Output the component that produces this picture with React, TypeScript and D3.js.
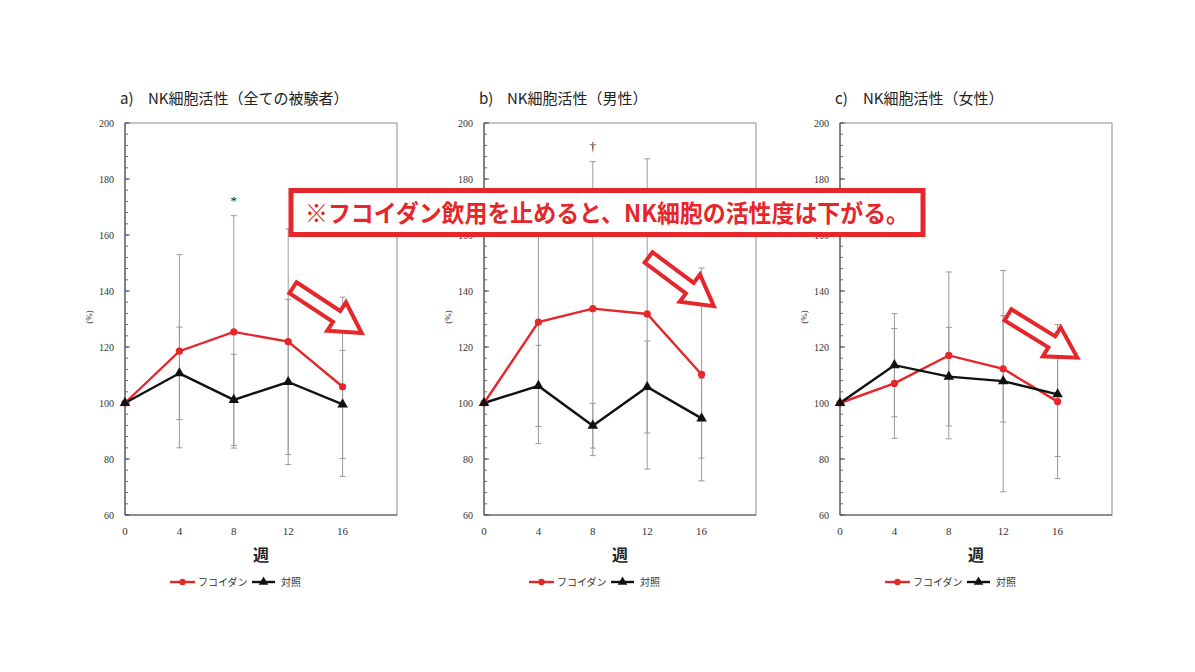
import React from "react";
import * as d3 from "d3";

// weeks and axis ticks
const weeks = [0, 4, 8, 12, 16];
const yTicks = [60, 80, 100, 120, 140, 160, 180, 200];
const yMinor = d3.range(60, 201, 4);

const panelLabels = ["a)", "b)", "c)"];
const panelNames = ["NK細胞活性（全ての被験者）", "NK細胞活性（男性）", "NK細胞活性（女性）"];
const seriesNames = ["フコイダン", "対照"];

// mean values (%)
const fucoidanA = [100, 118.5, 125.4, 121.9, 105.8];
const controlA = [100, 110.6, 101.1, 107.5, 99.5];
const fucoidanB = [100, 128.9, 133.7, 131.8, 110.2];
const controlB = [100, 106.1, 91.9, 105.7, 94.5];
const fucoidanC = [100, 107.0, 117.0, 112.2, 100.5];
const controlC = [100, 113.5, 109.4, 107.8, 103.1];

// standard deviations
const fucoidanSdA = [0, 34.5, 41.5, 40.3, 32.0];
const controlSdA = [0, 16.5, 16.3, 29.5, 19.3];
const fucoidanSdB = [0, 43.4, 52.5, 55.4, 38.0];
const controlSdB = [0, 14.5, 8.0, 16.4, 14.2];
const fucoidanSdC = [0, 19.6, 29.8, 19.0, 27.5];
const controlSdC = [0, 18.4, 17.6, 39.5, 22.2];

// significance marks (week, symbol)
const marks = [{ week: 8, sym: "*" }, { week: 8, sym: "†" }, null];

// hollow arrows: [tail week, tail value, tip week, tip value]
const arrows = [
  [12.35, 141.2, 17.4, 125.0],
  [12.1, 152.0, 16.9, 134.6],
  [12.35, 131.5, 17.45, 116.2],
];

const banner = "※フコイダン飲用を止めると、NK細胞の活性度は下がる。";

const RED = "#e5262a";
const GRAY = "#9a9a9a";
const SERIF = "'Liberation Serif', 'DejaVu Serif', serif";
const SANS = "'Noto Sans CJK JP', 'Noto Sans', sans-serif";

const panels = [
  { left: 125, f: fucoidanA, fs: fucoidanSdA, c: controlA, cs: controlSdA },
  { left: 484, f: fucoidanB, fs: fucoidanSdB, c: controlB, cs: controlSdB },
  { left: 840, f: fucoidanC, fs: fucoidanSdC, c: controlC, cs: controlSdC },
];

const top = 123;
const bottom = 515;
const plotW = 272;

function Arrow({ x1, y1, x2, y2 }: { x1: number; y1: number; x2: number; y2: number }) {
  const L = Math.hypot(x2 - x1, y2 - y1);
  const ang = (Math.atan2(y2 - y1, x2 - x1) * 180) / Math.PI;
  const sw = 6.5, hw = 17, hl = 30;
  const pts = [
    [0, -sw], [L - hl, -sw], [L - hl, -hw], [L, 0], [L - hl, hw], [L - hl, sw], [0, sw],
  ].map((p) => p.join(",")).join(" ");
  return (
    <g transform={`translate(${x1},${y1}) rotate(${ang})`}>
      <polygon points={pts} fill="white" stroke={RED} strokeWidth={4} strokeLinejoin="miter" />
    </g>
  );
}

function Panel({ idx }: { idx: number }) {
  const p = panels[idx];
  const x = d3.scaleLinear().domain([0, 20]).range([p.left, p.left + plotW]);
  const y = d3.scaleLinear().domain([60, 200]).range([bottom, top]);
  const line = d3.line<number>().x((_, i) => x(weeks[i])).y((d) => y(d));
  const tri = d3.symbol().type(d3.symbolTriangle).size(48)();
  const mark = marks[idx];
  const a = arrows[idx];
  const cx = p.left + plotW / 2;

  const errBars = (vals: number[], sds: number[], key: string) =>
    vals.map((v, i) =>
      sds[i] > 0 ? (
        <g key={key + i} stroke={GRAY} strokeWidth={1}>
          <line x1={x(weeks[i])} x2={x(weeks[i])} y1={y(v - sds[i])} y2={y(v + sds[i])} />
          <line x1={x(weeks[i]) - 3} x2={x(weeks[i]) + 3} y1={y(v - sds[i])} y2={y(v - sds[i])} />
          <line x1={x(weeks[i]) - 3} x2={x(weeks[i]) + 3} y1={y(v + sds[i])} y2={y(v + sds[i])} />
        </g>
      ) : null
    );

  return (
    <g>
      {/* title */}
      <text x={p.left - 5} y={104} fontFamily={SANS} fontSize={15} fill="#222">
        {panelLabels[idx]}
      </text>
      <text x={p.left + 23} y={104} fontFamily={SANS} fontSize={15} fill="#222">
        {panelNames[idx]}
      </text>

      {/* frame */}
      <rect x={p.left} y={top} width={plotW} height={bottom - top} fill="none" stroke="#8c8c8c" strokeWidth={1} />
      <line x1={p.left} x2={p.left} y1={top} y2={bottom} stroke="#555" strokeWidth={1.2} />
      <line x1={p.left} x2={p.left + plotW} y1={bottom} y2={bottom} stroke="#555" strokeWidth={1.2} />

      {/* y ticks */}
      {yMinor.map((t) => (
        <line key={"m" + t} x1={p.left} x2={p.left + 3} y1={y(t)} y2={y(t)} stroke="#666" strokeWidth={1} />
      ))}
      {yTicks.map((t) => (
        <g key={"y" + t}>
          <line x1={p.left} x2={p.left + 5} y1={y(t)} y2={y(t)} stroke="#555" strokeWidth={1} />
          <text x={p.left - 11} y={y(t) + 3.5} textAnchor="end" fontFamily={SERIF} fontSize={10} fill="#333">
            {t}
          </text>
        </g>
      ))}
      <text
        transform={`translate(${p.left - 33},${(top + bottom) / 2 - 2}) rotate(-90)`}
        textAnchor="middle"
        fontFamily={SERIF}
        fontSize={9}
        fill="#333"
      >
        (%)
      </text>

      {/* x ticks */}
      {weeks.map((w) => (
        <text key={"x" + w} x={x(w)} y={535} textAnchor="middle" fontFamily={SERIF} fontSize={11} fill="#333">
          {w}
        </text>
      ))}
      <text x={cx} y={561} textAnchor="middle" fontFamily={SANS} fontWeight="bold" fontSize={16} fill="#222">
        週
      </text>

      {/* error bars */}
      {errBars(p.f, p.fs, "f")}
      {errBars(p.c, p.cs, "c")}

      {mark && (
        <text
          x={x(mark.week)}
          y={y(p.f[weeks.indexOf(mark.week)] + p.fs[weeks.indexOf(mark.week)]) - 14}
          textAnchor="middle"
          fontFamily={SERIF}
          fontSize={13}
          fill="#222"
          dominantBaseline="middle"
        >
          {mark.sym}
        </text>
      )}

      {/* series */}
      <path d={line(p.f) || ""} fill="none" stroke={RED} strokeWidth={2.4} />
      <path d={line(p.c) || ""} fill="none" stroke="#111" strokeWidth={2.4} />
      {p.f.map((v, i) => (
        <circle key={"fd" + i} cx={x(weeks[i])} cy={y(v)} r={3.6} fill={RED} />
      ))}
      {p.c.map((v, i) => (
        <path key={"cd" + i} d={tri || ""} transform={`translate(${x(weeks[i])},${y(v)})`} fill="#111" />
      ))}

      {/* legend */}
      <g transform={`translate(${p.left + 45},582)`}>
        <line x1={0} x2={25} y1={0} y2={0} stroke={RED} strokeWidth={2.4} />
        <circle cx={12.5} cy={0} r={3.2} fill={RED} />
        <text x={28} y={3.5} fontFamily={SANS} fontSize={10} fill="#333">
          {seriesNames[0]}
        </text>
        <line x1={82} x2={105} y1={0} y2={0} stroke="#111" strokeWidth={2.4} />
        <path d={d3.symbol().type(d3.symbolTriangle).size(40)() || ""} transform="translate(93.5,0)" fill="#111" />
        <text x={111} y={3.5} fontFamily={SANS} fontSize={10} fill="#333">
          {seriesNames[1]}
        </text>
      </g>

      <Arrow x1={x(a[0])} y1={y(a[1])} x2={x(a[2])} y2={y(a[3])} />
    </g>
  );
}

export default function App() {
  return (
    <svg width={1195} height={672} style={{ position: "absolute", left: 0, top: 0, background: "white" }}>
      <rect width={1195} height={672} fill="white" />
      {panels.map((_, i) => (
        <Panel key={i} idx={i} />
      ))}
      {/* banner */}
      <rect x={291} y={190.5} width={632} height={44} fill="white" stroke={RED} strokeWidth={5} />
      <text
        x={607}
        y={222}
        textAnchor="middle"
        fontFamily={SANS}
        fontWeight="bold"
        fontSize={24}
        fill={RED}
        textLength={604}
        lengthAdjust="spacingAndGlyphs"
      >
        {banner}
      </text>
    </svg>
  );
}
